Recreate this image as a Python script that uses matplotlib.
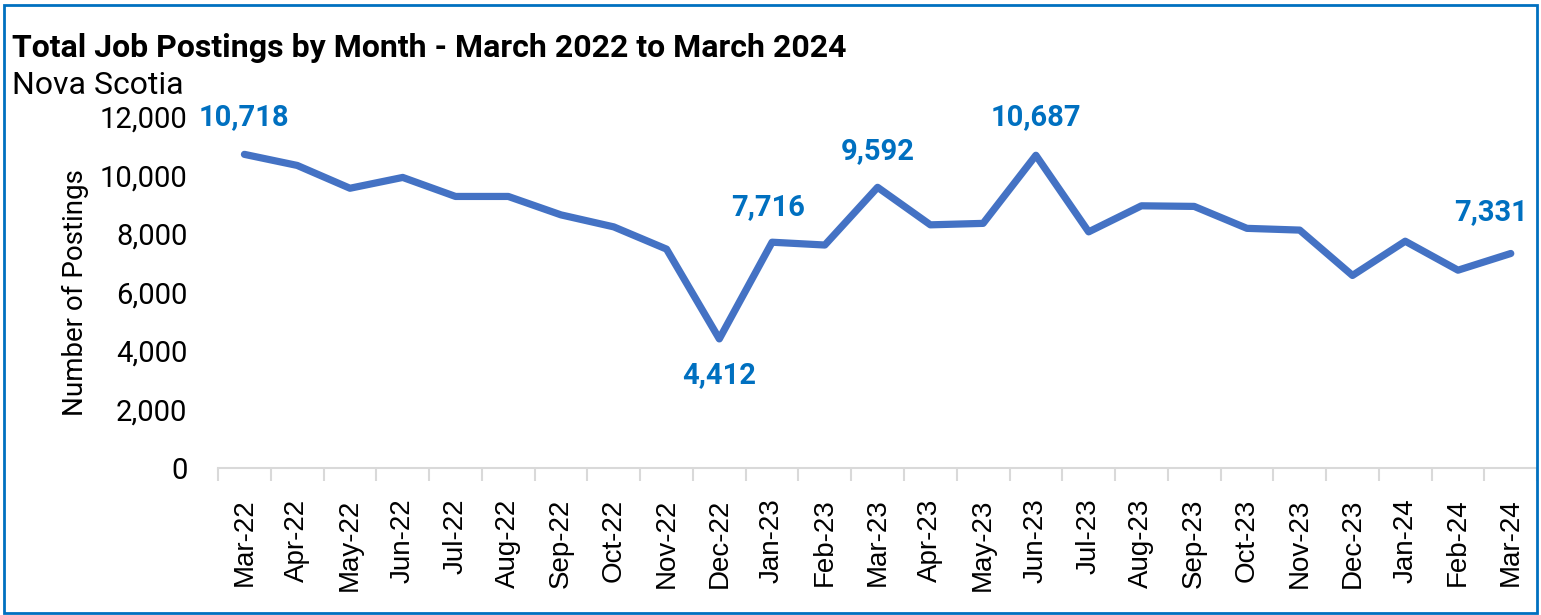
import matplotlib.pyplot as plt
from matplotlib.patches import Rectangle

months = ["Mar-22", "Apr-22", "May-22", "Jun-22", "Jul-22", "Aug-22", "Sep-22",
          "Oct-22", "Nov-22", "Dec-22", "Jan-23", "Feb-23", "Mar-23", "Apr-23",
          "May-23", "Jun-23", "Jul-23", "Aug-23", "Sep-23", "Oct-23", "Nov-23",
          "Dec-23", "Jan-24", "Feb-24", "Mar-24"]
postings = [10718, 10340, 9560, 9930, 9280, 9280, 8650, 8240, 7480, 4412, 7716,
            7620, 9592, 8310, 8360, 10687, 8070, 8960, 8940, 8190, 8130, 6580,
            7750, 6760, 7331]

# labelled points: index -> (dx, dy) offset in pixels
labels = {0: (0, 37), 9: (0, -36), 10: (-4, 35), 12: (0, 36), 15: (0, 38), 24: (-20, 41)}

fig = plt.figure(figsize=(15.41, 6.15), dpi=100)
ax = fig.add_axes([0.1415, 0.239, 0.856, 0.571])

x = list(range(len(months)))
ax.plot(x, postings, color="#4472C4", linewidth=5.2, solid_capstyle="round",
        solid_joinstyle="round")

for i, (dx, dy) in labels.items():
    ax.annotate(f"{postings[i]:,}", (x[i], postings[i]), xytext=(dx, dy),
                textcoords="offset pixels", ha="center", va="center",
                color="#0070C0", fontsize=21, fontweight="bold", family="Roboto",
                annotation_clip=False)

ax.set_xlim(-0.5, len(months) - 0.5)
ax.set_ylim(0, 12000)
ax.set_yticks(range(0, 12001, 2000))
ax.set_yticklabels([f"{v:,}" for v in range(0, 12001, 2000)], family="Roboto", fontsize=21)
ax.set_xticks(x)
ax.set_xticklabels(months, rotation=90, family="Liberation Sans", fontsize=20)
ax.set_xticks([i + 0.5 for i in range(-1, len(months))], minor=True)
ax.tick_params(axis="x", which="major", length=0, pad=22)
ax.tick_params(axis="x", which="minor", length=9, color="#D9D9D9", width=1.5)
ax.tick_params(axis="y", length=0, pad=22)

for s in ["top", "right", "left"]:
    ax.spines[s].set_visible(False)
ax.spines["bottom"].set_color("#D9D9D9")
ax.spines["bottom"].set_linewidth(1.5)

ax.set_ylabel("Number of Postings", family="Roboto", fontsize=20, labelpad=8)

fig.text(12 / 1541, 1 - 48 / 615, "Total Job Postings by Month - March 2022 to March 2024",
         family="Roboto", fontweight="bold", fontsize=23, va="center", ha="left")
fig.text(12 / 1541, 1 - 86 / 615, "Nova Scotia", family="Roboto", fontsize=23,
         va="center", ha="left")

fig.patches.append(Rectangle((4 / 1541, 2 / 615), 1533 / 1541, 608 / 615,
                             transform=fig.transFigure, fill=False,
                             edgecolor="#0070C0", linewidth=2))

fig.savefig("out.png", dpi=100)
